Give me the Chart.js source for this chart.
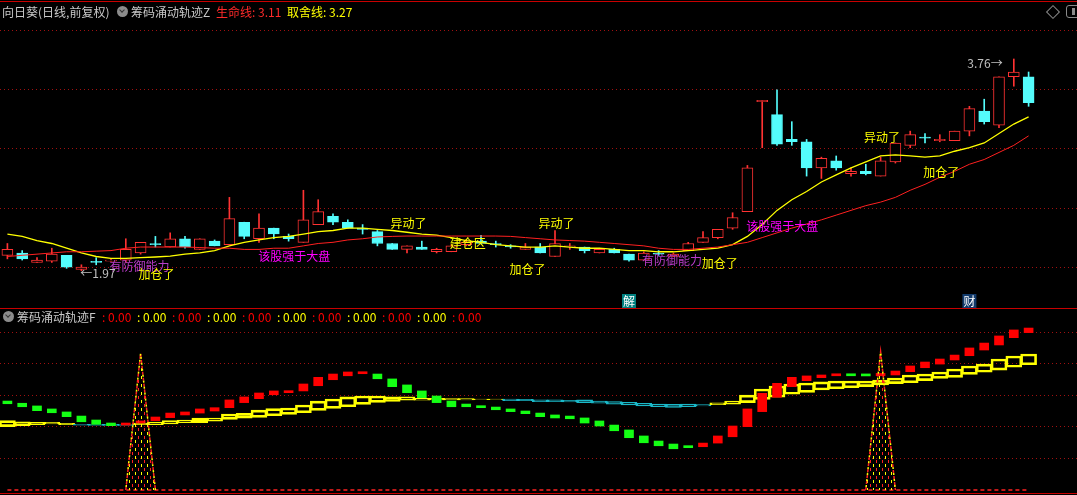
<!DOCTYPE html>
<html>
<head>
<meta charset="utf-8">
<script src="https://cdn.jsdelivr.net/npm/chart.js@4.4.0/dist/chart.umd.min.js"></script>
<style>
  body { margin: 0; background: #000; width: 1077px; height: 495px; overflow: hidden; position: relative;
         font-family: "Noto Sans CJK SC", "DejaVu Sans", sans-serif; }
  canvas { position: absolute; left: 0; }
  #top { top: 0; }
  #bot { top: 308px; }
  .t { position: absolute; font-size: 12px; line-height: 14px; white-space: nowrap; }
  .rule { position: absolute; left: 0; width: 1077px; height: 1px; background: #c80000; z-index: 2; }
  .knob { position: absolute; width: 11px; height: 11px; border-radius: 50%; background: #8c8c8c; }
  .knob::after { content: ""; position: absolute; left: 3px; top: 2px; width: 3px; height: 3px;
                 border-right: 1.5px solid #333; border-bottom: 1.5px solid #333; transform: rotate(45deg); }
</style>
</head>
<body>
<canvas id="top" width="1077" height="308"></canvas>
<canvas id="bot" width="1077" height="187"></canvas>

<div class="rule" style="top:1px"></div>
<div class="rule" style="top:308px"></div>
<div class="rule" style="top:493px"></div>

<div class="t" style="left:2px;top:5px;color:#c8c8c8">向日葵(日线,前复权)</div>
<div class="knob" style="left:117px;top:6px"></div>
<div class="t" style="left:131px;top:5px;color:#c8c8c8">筹码涌动轨迹Z</div>
<div class="t" style="left:216px;top:5px;color:#ff2a2a">生命线: 3.11</div>
<div class="t" style="left:287px;top:5px;color:#ffff00">取舍线: 3.27</div>
<div style="position:absolute;left:1048px;top:7px;width:8px;height:8px;border:1px solid #8a8a8a;transform:rotate(45deg)"></div>
<div style="position:absolute;left:1066px;top:5px;width:12px;height:11px;border:1.5px solid #8a8a8a;border-radius:3px"></div>
<div style="position:absolute;left:1072px;top:8px;width:3px;height:7px;background:#8a8a8a"></div>

<div class="knob" style="left:3px;top:311px"></div>
<div class="t" style="left:17px;top:310px;color:#c8c8c8">筹码涌动轨迹F</div>
<div id="fvals"></div>

<script>
// candles, index 0 = left edge
const opens  = [2.10,2.12,2.04,2.05,2.10,1.98,2.05,2.05,2.06,2.12, 2.20,2.17,2.24,2.15,2.22,2.19,2.38,2.24,2.33,2.26,
                2.21,2.36,2.43,2.38,2.33,2.30,2.20,2.15,2.17,2.13, 2.13,2.19,2.22,2.20,2.18,2.15,2.17,2.09,2.17,2.17,
                2.12,2.15,2.11,2.06,2.12,2.09,2.14,2.21,2.25,2.33, 2.47,3.40,3.29,3.08,3.06,2.84,2.90,2.79,2.81,2.77,
                2.89,3.03,3.10,3.07,3.07,3.15,3.32,3.20,3.61,3.61];
const closes = [2.15,2.07,2.06,2.11,2.00,2.00,2.04,2.06,2.15,2.21, 2.19,2.24,2.17,2.24,2.18,2.41,2.26,2.33,2.28,2.24,
                2.40,2.47,2.38,2.33,2.32,2.20,2.15,2.18,2.15,2.15, 2.18,2.21,2.20,2.19,2.17,2.17,2.12,2.20,2.18,2.14,
                2.15,2.12,2.06,2.12,2.11,2.11,2.20,2.25,2.32,2.42, 2.84,3.41,3.04,3.06,2.84,2.92,2.84,2.81,2.79,2.90,
                3.05,3.12,3.09,3.08,3.15,3.34,3.23,3.61,3.65,3.39];
const highs  = [2.20,2.14,2.08,2.16,2.10,2.02,2.08,2.07,2.24,2.21, 2.26,2.29,2.26,2.24,2.23,2.59,2.38,2.45,2.33,2.28,
                2.65,2.57,2.45,2.40,2.36,2.31,2.20,2.18,2.22,2.16, 2.19,2.23,2.27,2.22,2.19,2.20,2.20,2.31,2.20,2.17,
                2.16,2.16,2.11,2.13,2.14,2.12,2.21,2.30,2.32,2.46, 2.86,3.41,3.50,3.23,3.08,2.93,2.94,2.84,2.87,2.93,
                3.05,3.15,3.13,3.12,3.15,3.36,3.42,3.61,3.76,3.65];
const lows   = [2.07,2.06,2.04,2.04,1.99,1.97,2.02,2.05,2.04,2.11, 2.17,2.17,2.16,2.15,2.18,2.19,2.24,2.21,2.24,2.22,
                2.21,2.36,2.36,2.33,2.28,2.18,2.15,2.12,2.15,2.12, 2.13,2.18,2.20,2.17,2.16,2.15,2.12,2.09,2.15,2.12,
                2.12,2.12,2.05,2.06,2.10,2.09,2.14,2.21,2.24,2.32, 2.47,3.01,3.03,3.03,2.77,2.75,2.82,2.77,2.78,2.77,
                2.88,3.01,3.05,3.06,3.07,3.11,3.21,3.18,3.53,3.36];

// 取舍线 (yellow) and 生命线 (red)
const keepLine = [2.28,2.26,2.225,2.20,2.16,2.12,2.09,2.075,2.075,2.08, 2.086,2.094,2.11,2.12,2.14,2.18,2.21,2.23,2.25,2.26,
                  2.28,2.30,2.31,2.33,2.33,2.32,2.31,2.295,2.28,2.27, 2.25,2.225,2.21,2.19,2.18,2.17,2.17,2.18,2.17,2.16,
                  2.16,2.15,2.14,2.14,2.13,2.13,2.14,2.15,2.16,2.19, 2.26,2.36,2.48,2.57,2.64,2.72,2.78,2.84,2.89,2.94,
                  2.95,2.94,2.93,2.94,2.98,3.01,3.05,3.13,3.21,3.27];
const lifeLine = [2.09,2.10,2.11,2.12,2.13,2.13,2.135,2.14,2.16,2.17, 2.17,2.17,2.17,2.166,2.16,2.16,2.15,2.15,2.16,2.16,
                  2.18,2.20,2.21,2.23,2.24,2.255,2.26,2.263,2.263,2.263, 2.263,2.263,2.263,2.263,2.26,2.25,2.24,2.23,2.225,2.22,
                  2.21,2.20,2.19,2.18,2.16,2.15,2.15,2.16,2.17,2.19, 2.21,2.25,2.29,2.33,2.365,2.40,2.44,2.48,2.52,2.55,
                  2.59,2.65,2.70,2.76,2.81,2.87,2.91,2.97,3.03,3.11];
const priceGrid = [2.0, 2.5, 3.0, 3.5, 4.0];

// [index, price, text, colour, align]
const notes = [
  [8.92, 2.01, '有防御能力', '#b83cc8', 'center'],
  [10.07, 1.942, '加仓了', '#ffff00', 'center'],
  [4.93, 1.95, '←1.97', '#c0c0c0', 'left'],
  [19.39, 2.094, '该股强于大盘', '#ff00ff', 'center'],
  [27.1, 2.373, '异动了', '#ffff00', 'center'],
  [31.1, 2.20, '建仓区', '#ffff00', 'center'],
  [37.1, 2.373, '异动了', '#ffff00', 'center'],
  [35.14, 1.98, '加仓了', '#ffff00', 'center'],
  [44.9, 2.06, '有防御能力', '#b83cc8', 'center'],
  [48.14, 2.035, '加仓了', '#ffff00', 'center'],
  [52.36, 2.348, '该股强于大盘', '#ff00ff', 'center'],
  [59.09, 3.10, '异动了', '#ffff00', 'center'],
  [63.1, 2.80, '加仓了', '#ffff00', 'center'],
  [64.86, 3.726, '3.76→', '#c0c0c0', 'left'],
];
// [index, char, background]
const events = [[42, '解', '#008080'], [65, '财', '#123a6b']];

// lower panel
const flowLo = [54.6,52.7,50.2,48.9,46.4,43.2,41.6,40.7,41.1,42.4, 43.9,45.8,47.5,48.7,50.0,52.1,55.3,57.8,60.3,61.6,
                62.7,66.0,69.8,72.3,73.6,70.4,65.4,61.6,58.4,55.3, 52.7,52.7,52.1,50.8,49.6,48.3,46.4,45.6,45.1,42.4,
                40.5,37.5,33.1,29.9,28.0,26.1,26.8,27.4,29.7,33.7, 40.1,49.6,58.7,65.4,69.2,71.1,72.3,72.3,72.2,72.3,
                72.8,74.9,77.4,79.7,82.3,85.0,88.6,91.8,96.4,99.6];
const flowHi = [56.3,54.9,53.2,51.3,49.4,46.8,44.3,42.4,42.4,43.7, 46.2,48.7,49.4,51.3,52.1,57.0,58.9,61.4,62.7,62.7,
                67.1,71.3,73.4,74.7,74.7,73.4,70.3,66.5,62.7,59.5, 56.3,54.4,53.2,52.5,51.3,50.0,48.7,47.5,46.8,45.6,
                43.7,41.1,38.0,34.2,31.0,29.1,28.0,29.7,34.2,40.5, 51.3,61.2,67.5,71.3,72.2,72.8,73.4,72.8,72.7,73.8,
                75.3,78.5,81.0,82.9,85.4,89.9,93.0,97.5,101.3,102.5];
const costLo = [40.1,40.7,41.3,41.8,41.3,41.0,40.95,40.9,40.85,41.3, 41.3,41.8,42.6,42.6,43.5,44.7,45.4,46.0,47.0,47.9,
                48.9,50.4,51.7,52.7,54.2,55.5,56.1,56.8,56.8,57.0, 57.0,57.0,57.1,57.1,56.5,56.5,55.9,55.9,55.7,55.3,
                54.9,54.4,53.8,53.2,52.7,52.3,52.7,53.2,54.0,54.4, 55.3,57.4,58.7,60.6,61.8,63.3,64.1,64.7,65.4,66.5,
                67.3,67.9,69.2,70.7,71.3,73.2,74.5,75.9,77.7,79.3];
const costHi = [43.9,43.2,42.85,42.85,42.2,41.6,41.55,41.5,41.45,42.3, 43.0,43.9,44.3,45.6,45.6,48.1,48.5,50.6,51.5,51.9,
                53.8,56.3,57.6,58.9,59.5,59.5,58.9,58.9,58.0,58.0, 57.9,57.8,57.6,57.6,57.6,57.4,57.0,57.0,56.8,57.0,
                56.3,55.9,55.5,54.9,54.4,54.2,54.4,54.0,55.1,56.3, 60.1,63.9,65.8,67.1,67.7,68.4,69.0,69.0,69.0,69.6,
                70.9,72.8,73.4,74.7,76.6,78.5,79.7,82.9,84.8,86.1];
const costFallRuns = [[5, 8], [34, 47]];
const spikeAt = [9, 59];
const spikePeak = [86.5, 87.5];
const flowGrid = [20, 40, 60, 80, 100];
const fLabels = ['0.00','0.00','0.00','0.00','0.00','0.00','0.00','0.00','0.00','0.00','0.00'];

const RED = '#ff3232', CYAN = '#54fcfc', YEL = '#ffff00', GREEN = '#14ff14';
const CJK = '12px "Noto Sans CJK SC", sans-serif';
const idx = opens.map((_, i) => i);
const isUp = i => closes[i] > opens[i];

document.getElementById('fvals').innerHTML = fLabels
  .map((v, k) => `<div class="t" style="left:${102 + k * 35}px;top:310px;color:${k % 2 ? '#ffff00' : '#ff0000'}">: ${v}</div>`)
  .join('');

// x is linear so both panels share one slot width and the spikes can sit between bars
const xScale = { type: 'linear', min: -0.5, max: 72.27, offset: false, display: false };
const yScale = (min, max, levels) => ({
  min, max,
  afterFit: s => { s.width = 0; },
  afterBuildTicks: s => { s.ticks = levels.map(v => ({ value: v })); },
  ticks: { display: false },
  grid: { color: '#a01010', drawTicks: false, lineWidth: 1 },
  border: { display: false, dash: [1, 3] },
});
const baseOptions = (min, max, levels) => ({
  responsive: false,
  animation: false,
  layout: { padding: 0 },
  plugins: { legend: { display: false }, tooltip: { enabled: false } },
  scales: { x: xScale, y: yScale(min, max, levels) },
});

const notePlugin = {
  id: 'notes',
  afterDatasetsDraw(chart) {
    const { ctx, scales: { x, y } } = chart;
    ctx.save();
    ctx.font = CJK;
    ctx.textBaseline = 'middle';
    notes.forEach(([i, p, text, color, align]) => {
      ctx.textAlign = align;
      ctx.fillStyle = color;
      ctx.fillText(text, x.getPixelForValue(i), y.getPixelForValue(p));
    });
    ctx.textAlign = 'center';
    events.forEach(([i, ch, bg]) => {
      const px = x.getPixelForValue(i);
      ctx.fillStyle = bg;
      ctx.fillRect(px - 7, chart.height - 14, 14, 14);
      ctx.fillStyle = '#ffffff';
      ctx.fillText(ch, px, chart.height - 7);
    });
    ctx.restore();
  }
};

new Chart(document.getElementById('top'), {
  type: 'bar',
  data: {
    datasets: [
      {
        label: 'wick',
        data: idx.map(i => ({ x: i, y: [lows[i], highs[i]] })),
        backgroundColor: idx.map(i => isUp(i) ? RED : CYAN),
        barThickness: 1, grouped: false, order: 5,
      },
      {
        label: 'body',
        data: idx.map(i => ({ x: i, y: [opens[i], closes[i]] })),
        backgroundColor: idx.map(i => isUp(i) ? '#000000' : CYAN),
        borderColor: idx.map(i => isUp(i) ? RED : CYAN),
        borderWidth: 1, borderSkipped: false, minBarLength: 1,
        barThickness: 11, grouped: false, order: 4,
      },
      {
        type: 'line', label: '取舍线',
        data: idx.map(i => ({ x: i, y: keepLine[i] })),
        borderColor: YEL, borderWidth: 1.3, pointRadius: 0, order: 2,
      },
      {
        type: 'line', label: '生命线',
        data: idx.map(i => ({ x: i, y: lifeLine[i] })),
        borderColor: '#ff2020', borderWidth: 1, pointRadius: 0, order: 1,
      },
    ]
  },
  options: baseOptions(1.6546, 4.2588, priceGrid),
  plugins: [notePlugin],
});

// sparse red/yellow dashes inside the spikes
const tile = document.createElement('canvas');
tile.width = 6; tile.height = 8;
const tg = tile.getContext('2d');
tg.fillStyle = '#ff2020'; tg.fillRect(0, 0, 1, 3);
tg.fillStyle = '#ffff00'; tg.fillRect(3, 4, 1, 3);
const spikeFill = tg.createPattern(tile, 'repeat');

const isFalling = i => costFallRuns.some(([a, b]) => i >= a && i <= b);
const mid = i => (flowLo[i] + flowHi[i]) / 2;

const spikeSets = spikeAt.flatMap((s, k) => {
  const pts = [{ x: s - 1, y: 0 }, { x: s, y: spikePeak[k] }, { x: s + 1, y: 0 }];
  return [
    { type: 'line', data: pts, borderColor: '#ff2020', borderWidth: 1.5, borderDash: [3, 3],
      backgroundColor: spikeFill, fill: 'origin', pointRadius: 0, order: 1 },
    { type: 'line', data: pts, borderColor: YEL, borderWidth: 1.5, borderDash: [2, 4], borderDashOffset: 3,
      pointRadius: 0, order: 0 },
  ];
});

new Chart(document.getElementById('bot'), {
  type: 'bar',
  data: {
    datasets: [
      {
        label: 'cost',
        data: idx.map(i => ({ x: i, y: [costLo[i], costHi[i]] })),
        backgroundColor: 'rgba(0,0,0,0)',
        borderColor: idx.map(i => isFalling(i) ? '#1ab8c8' : YEL),
        borderWidth: 2, borderSkipped: false, barThickness: 16, grouped: false, order: 6,
      },
      {
        label: 'flow',
        data: idx.map(i => ({ x: i, y: [flowLo[i], flowHi[i]] })),
        backgroundColor: idx.map(i => mid(i) > (i > 0 ? mid(i - 1) : Infinity) ? '#ff0000' : GREEN),
        borderWidth: 0, minBarLength: 2, barThickness: 9, grouped: false, order: 5,
      },
      {
        type: 'line', label: 'zero',
        data: idx.map(i => ({ x: i, y: 0 })),
        borderColor: '#ff2020', borderWidth: 1.5, borderDash: [4, 3], pointRadius: 0, order: 4,
      },
      ...spikeSets,
    ]
  },
  options: baseOptions(-3.16, 115.19, flowGrid),
});
</script>
</body>
</html>
